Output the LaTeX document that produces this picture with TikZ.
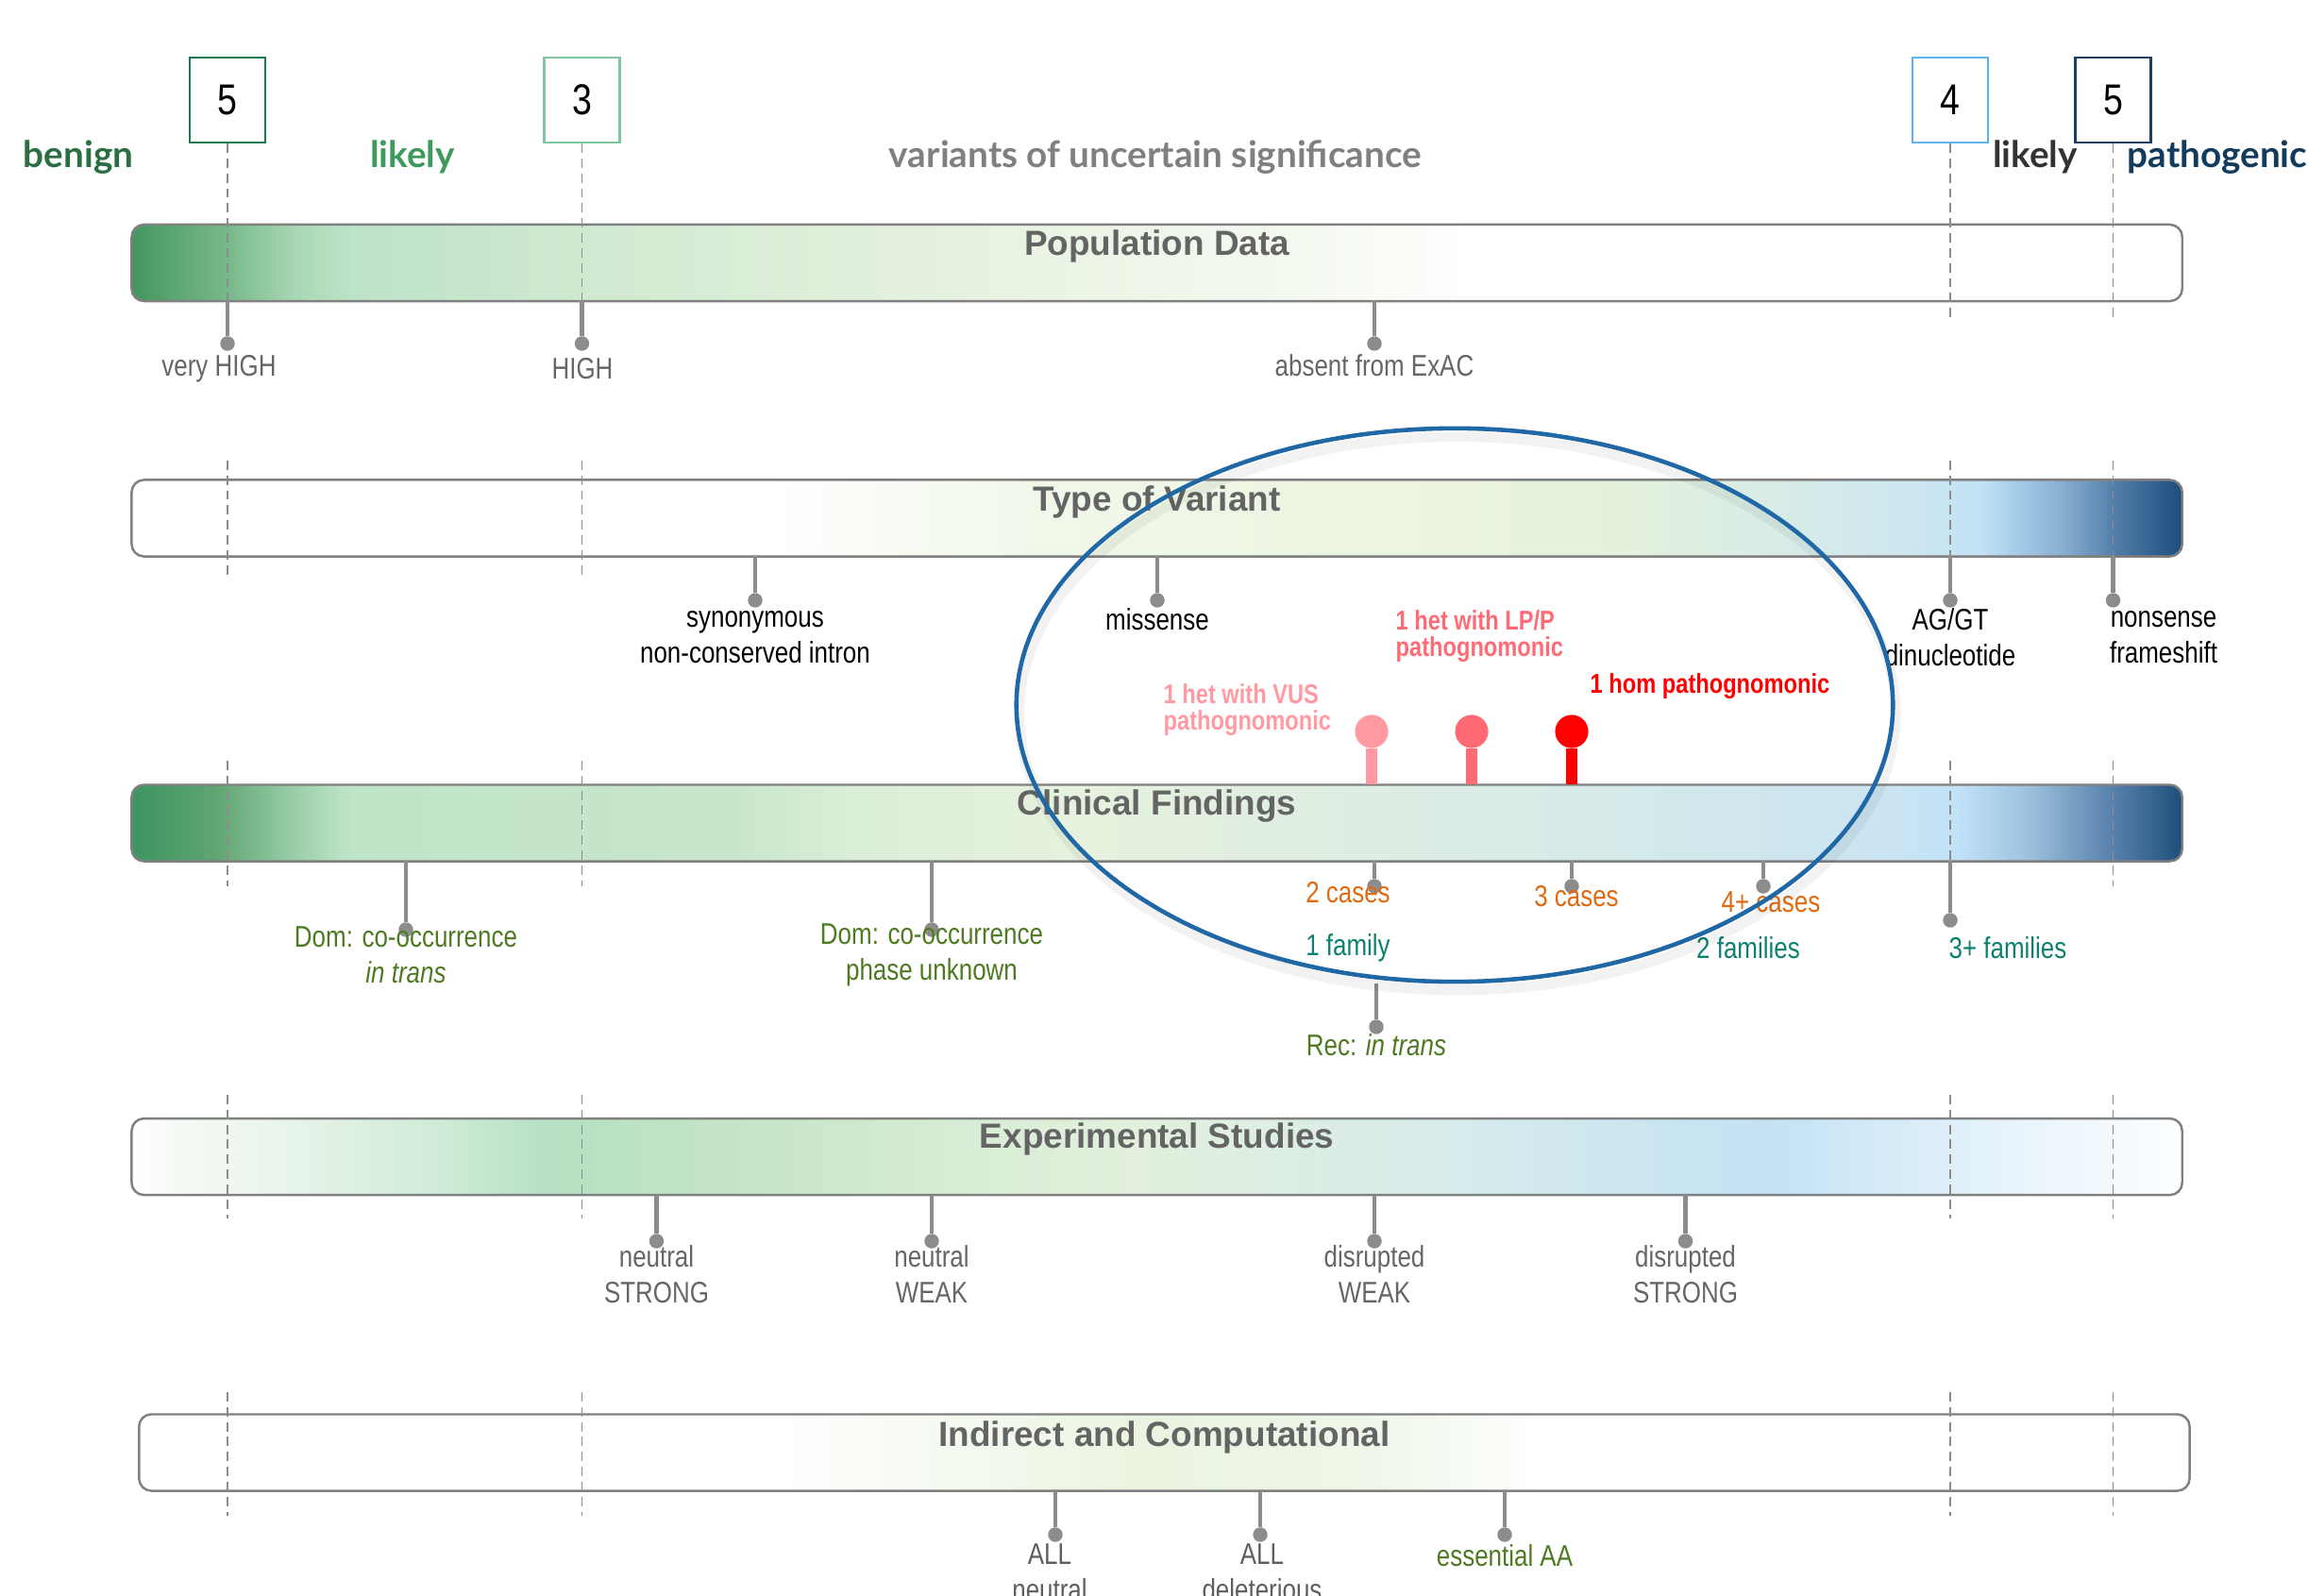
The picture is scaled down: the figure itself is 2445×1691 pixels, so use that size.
\documentclass[tikz,border=0pt]{standalone}
\usepackage{fontspec}
\setmainfont{Liberation Sans}
\newfontfamily\narrowfont[FakeStretch=0.82]{Liberation Sans}
\newfontfamily\headfont{Lato}

\definecolor{benigngreen}{HTML}{2B6E42}
\definecolor{likelygreen}{HTML}{3E9A5C}
\definecolor{vusgrey}{HTML}{808080}
\definecolor{likelydark}{HTML}{333333}
\definecolor{pathnavy}{HTML}{133B5C}
\definecolor{boxa}{HTML}{1E7A4E}
\definecolor{boxb}{HTML}{7CC6A0}
\definecolor{boxc}{HTML}{5CB4EA}
\definecolor{boxd}{HTML}{1C3F60}
\definecolor{barline}{HTML}{808080}
\definecolor{titlegrey}{HTML}{646464}
\definecolor{guidegrey}{HTML}{8C8C8C}
\definecolor{stemgrey}{HTML}{8C8C8C}
\definecolor{labgrey}{HTML}{666666}
\definecolor{allgrey}{HTML}{5E5E5E}
\definecolor{olive}{HTML}{4E7A22}
\definecolor{caseorange}{HTML}{E06A10}
\definecolor{famteal}{HTML}{0F8070}
\definecolor{vuspink}{HTML}{FF9AA2}
\definecolor{lppink}{HTML}{FF6B75}
\definecolor{homred}{HTML}{FF0000}
\definecolor{focusblue}{HTML}{2067A6}

\definecolor{pa}{HTML}{44965E}\definecolor{pb}{HTML}{78B88A}\definecolor{pc}{HTML}{A8D8B4}
\definecolor{pd}{HTML}{BDE3C8}\definecolor{pe}{HTML}{D0E9D1}\definecolor{pf}{HTML}{E6F2DF}
\definecolor{pg}{HTML}{F4F9F0}

\definecolor{tb}{HTML}{F1F8EA}\definecolor{tc}{HTML}{EAF4DE}\definecolor{td}{HTML}{E4F1DC}
\definecolor{te}{HTML}{D4EAEA}\definecolor{tf}{HTML}{CCE6F0}\definecolor{tg}{HTML}{C2E2F6}
\definecolor{th}{HTML}{A9D0EC}\definecolor{ti}{HTML}{86AED0}\definecolor{tj}{HTML}{4C78A4}
\definecolor{tk}{HTML}{1F4D7C}

\definecolor{ca}{HTML}{3D9460}\definecolor{cb}{HTML}{5FA572}\definecolor{cc}{HTML}{B0DCBC}
\definecolor{cd}{HTML}{C0E4C8}\definecolor{ce}{HTML}{C8E6CC}\definecolor{cf}{HTML}{DCEFD8}
\definecolor{cg}{HTML}{E6F2DE}\definecolor{ch}{HTML}{DEEDE2}\definecolor{ci}{HTML}{D6EAE8}
\definecolor{cj}{HTML}{CBE4F2}\definecolor{ck}{HTML}{C2E2F8}\definecolor{cl}{HTML}{9CC0DC}
\definecolor{cm}{HTML}{5A84AE}\definecolor{cn}{HTML}{1F4E7C}

\definecolor{eb}{HTML}{F6FAF6}\definecolor{ec}{HTML}{E8F4EA}\definecolor{ed}{HTML}{D0ECD8}
\definecolor{ee}{HTML}{B5E0C2}\definecolor{ef}{HTML}{C4E4C8}\definecolor{eg}{HTML}{DBEED8}
\definecolor{eh}{HTML}{E2F0DC}\definecolor{ei}{HTML}{D8ECEA}\definecolor{ej}{HTML}{C3E2F4}
\definecolor{ek}{HTML}{E0F0FA}\definecolor{el}{HTML}{FDFEFF}

\definecolor{ib}{HTML}{EAF4E0}\definecolor{ic}{HTML}{EEF6E8}

\pgfdeclarehorizontalshading{popshade}{100bp}{%
    color(0bp)=(pa); color(25bp)=(pa); color(27.3bp)=(pb); color(29bp)=(pc);
    color(30.4bp)=(pd); color(36.1bp)=(pe); color(45.1bp)=(pf); color(53.4bp)=(pg);
    color(57.7bp)=(white); color(100bp)=(white)}
\pgfdeclarehorizontalshading{tovshade}{100bp}{%
    color(0bp)=(white); color(40.4bp)=(white); color(46.9bp)=(tb); color(57.7bp)=(tc);
    color(61.3bp)=(td); color(66.3bp)=(te); color(68.5bp)=(tf); color(70.1bp)=(tg);
    color(70.8bp)=(th); color(72.1bp)=(ti); color(73.5bp)=(tj); color(75bp)=(tk);
    color(100bp)=(tk)}
\pgfdeclarehorizontalshading{clinshade}{100bp}{%
    color(0bp)=(ca); color(25bp)=(ca); color(27.05bp)=(cb); color(29.7bp)=(cc);
    color(30.4bp)=(cd); color(39.7bp)=(ce); color(42.9bp)=(cf); color(48.3bp)=(cg);
    color(54.9bp)=(ch); color(60.4bp)=(ci); color(67.7bp)=(cj); color(69.5bp)=(ck);
    color(71.3bp)=(cl); color(73.2bp)=(cm); color(75bp)=(cn); color(100bp)=(cn)}
\pgfdeclarehorizontalshading{exptshade}{100bp}{%
    color(0bp)=(white); color(25bp)=(white); color(26bp)=(eb); color(28.8bp)=(ec);
    color(32.3bp)=(ed); color(35.3bp)=(ee); color(39.4bp)=(ef); color(46.4bp)=(eg);
    color(49.4bp)=(eh); color(56.7bp)=(ei); color(64.9bp)=(ej); color(69.5bp)=(ek);
    color(75bp)=(el); color(100bp)=(el)}
\pgfdeclarehorizontalshading{indshade}{100bp}{%
    color(0bp)=(white); color(40.6bp)=(white); color(49.4bp)=(ib); color(54.8bp)=(ic);
    color(59.1bp)=(white); color(100bp)=(white)}

\begin{document}
\begin{tikzpicture}[x=0.01cm, y=-0.01cm,
        header/.style={font=\headfont\bfseries\fontsize{11}{13}\selectfont, anchor=base, inner sep=0pt},
        scorebox/.style={draw, line width=0.6pt, fill=white, minimum width=0.8cm,
            minimum height=0.9cm, inner sep=0pt, font=\narrowfont\fontsize{13}{15}\selectfont},
        bar/.style={draw=barline, line width=0.7pt, rounded corners=0.13cm, shade,
            minimum width=21.71cm, minimum height=0.81cm, inner sep=0pt},
        bartitle/.style={font=\bfseries\fontsize{10.5}{12}\selectfont, text=titlegrey},
        guide/.style={draw=guidegrey, line width=0.5pt, dash pattern=on 2.8pt off 1.7pt},
        stem/.style={draw=stemgrey, line width=1.3pt},
        stemdot/.style={circle, fill=stemgrey, inner sep=0pt, minimum size=4.4pt},
        ticklabel/.style={font=\narrowfont\fontsize{9}{10.8}\selectfont, align=center, inner sep=0pt},
        flaghead/.style={circle, inner sep=0pt, minimum size=10pt},
        flagstem/.style={line width=3.3pt},
        flaglabel/.style={font=\narrowfont\bfseries\fontsize{8.2}{8}\selectfont, align=left,
            anchor=west, inner sep=0pt}]
    \useasboundingbox (0,0) rectangle (2445,1691);

    \node[header, text=benigngreen] (benign) at (83,178) {benign};
    \node[header, text=likelygreen] (likelyb) at (437,178) {likely};
    \node[header, text=vusgrey] (vus) at (1224,178) {variants of uncertain significance};
    \node[header, text=likelydark] (likelyp) at (2156,178) {likely};
    \node[header, text=pathnavy, anchor=base west] (pathogenic) at (2253,178) {pathogenic};

    \node[scorebox, draw=boxa] (sba) at (241,106) {5};
    \node[scorebox, draw=boxb] (sbb) at (616.5,106) {3};
    \node[scorebox, draw=boxc] (sbc) at (2066,106) {4};
    \node[scorebox, draw=boxd] (sbd) at (2238.5,106) {5};

    \node[bar, shading=popshade] (popbar) at (1225.6,278.5) {};
    \node[bar, shading=tovshade] (tovbar) at (1225.6,549) {};
    \node[bar, shading=clinshade] (clinbar) at (1225.6,872) {};
    \node[bar, shading=exptshade] (exptbar) at (1225.6,1225.6) {};
    \node[bar, shading=indshade] (indbar) at (1233.4,1539) {};

    \node[bartitle] (poptitle) at ([yshift=-0.24cm]popbar.north) {Population Data};
    \node[bartitle] (tovtitle) at ([yshift=-0.25cm]tovbar.north) {Type of Variant};
    \node[bartitle] (clintitle) at ([yshift=-0.24cm]clinbar.north) {Clinical Findings};
    \node[bartitle] (expttitle) at ([yshift=-0.23cm]exptbar.north) {Experimental Studies};
    \node[bartitle] (indtitle) at ([yshift=-0.26cm]indbar.north) {Indirect and Computational};

    \foreach \nm/\xx/\yt/\yd in {
            popvh/241/318/364, pophi/616.5/318/364, popab/1456/318/364,
            tovsy/800/589/636, tovmi/1226/589/636, tovag/2066/589/636, tovns/2238.5/589/636,
            clintr/430/912/985, clinph/987/912/985, clincb/1456/912/939,
            clincc/1665/912/939, clincd/1868/912/939, clinfm/2066/912/975,
            clinrec/1458/1042/1088,
            exns/695.5/1266/1315, exnw/987/1266/1315, exdw/1456/1266/1315, exds/1785.5/1266/1315,
            indan/1118/1580/1626, indad/1335/1580/1626, indaa/1594/1580/1626} {
        \coordinate (\nm-top) at (\xx,\yt);
        \node[stemdot] (\nm) at (\xx,\yd) {};
        \draw[stem] (\nm-top) -- (\nm);
    }

    \foreach \gx [count=\i] in {241,616.5,2066,2238.5} {
        \coordinate (gpop\i) at (\gx,340);
        \coordinate (gtov\i) at (\gx,488);
        \coordinate (gtovb\i) at (\gx,610);
        \coordinate (gclin\i) at (\gx,806);
        \coordinate (gclinb\i) at (\gx,939);
        \coordinate (gexpt\i) at (\gx,1160);
        \coordinate (gexptb\i) at (\gx,1291);
        \coordinate (gind\i) at (\gx,1475);
        \coordinate (gindb\i) at (\gx,1606);
    }
    \draw[guide] (sba.south) -- (popvh-top);
    \draw[guide] (sbb.south) -- (pophi-top);
    \draw[guide] (sbc.south) -- (gpop3);
    \draw[guide] (sbd.south) -- (gpop4);
    \draw[guide] (gtov1) -- (gtovb1);
    \draw[guide] (gtov2) -- (gtovb2);
    \draw[guide] (gtov3) -- (tovag-top);
    \draw[guide] (gtov4) -- (tovns-top);
    \draw[guide] (gclin1) -- (gclinb1);
    \draw[guide] (gclin2) -- (gclinb2);
    \draw[guide] (gclin3) -- (clinfm-top);
    \draw[guide] (gclin4) -- (gclinb4);
    \foreach \i in {1,...,4} {
        \draw[guide] (gexpt\i) -- (gexptb\i);
        \draw[guide] (gind\i) -- (gindb\i);
    }

    \node[ticklabel, text=labgrey] (lvh) at (232,391) {very HIGH};
    \node[ticklabel, text=labgrey] (lhi) at (617,391) {HIGH};
    \node[ticklabel, text=labgrey] (lab) at (1456,387) {absent from ExAC};

    \node[ticklabel] (lsy) at (800,675) {synonymous\\non-conserved intron};
    \node[ticklabel] (lmi) at (1226,656) {missense};
    \node[ticklabel] (lag) at (2066,675) {AG/GT\\dinucleotide};
    \node[ticklabel] (lns) at (2292,675) {nonsense\\frameshift};

    \node[ticklabel, text=olive] (ltr) at (430,1012) {Dom: co-occurrence\\\textit{in trans}};
    \node[ticklabel, text=olive] (lph) at (987,1012) {Dom: co-occurrence\\phase unknown};
    \node[ticklabel, text=caseorange] (lcb) at (1428,946) {2 cases};
    \node[ticklabel, text=caseorange] (lcc) at (1670,950) {3 cases};
    \node[ticklabel, text=caseorange] (lcd) at (1876,956) {4+ cases};
    \node[ticklabel, text=famteal] (lfa) at (1428,1004) {1 family};
    \node[ticklabel, text=famteal] (lfb) at (1852,1004) {2 families};
    \node[ticklabel, text=famteal] (lfc) at (2127,1004) {3+ families};
    \node[ticklabel, text=olive] (lrec) at (1458,1107) {Rec: \textit{in trans}};

    \node[ticklabel, text=labgrey] (lens) at (695.5,1350) {neutral\\STRONG};
    \node[ticklabel, text=labgrey] (lenw) at (987,1350) {neutral\\WEAK};
    \node[ticklabel, text=labgrey] (ledw) at (1456,1350) {disrupted\\WEAK};
    \node[ticklabel, text=labgrey] (leds) at (1785.5,1350) {disrupted\\STRONG};

    \node[ticklabel, text=allgrey] (lan) at (1112,1666) {ALL\\neutral};
    \node[ticklabel, text=allgrey] (lad) at (1337,1666) {ALL\\deleterious};
    \node[ticklabel, text=olive] (laa) at (1594,1648) {essential AA};

    \node[flaghead, fill=vuspink] (fvus) at (1453,775) {};
    \node[flaghead, fill=lppink] (flp) at (1559,775) {};
    \node[flaghead, fill=homred] (fhom) at (1665,775) {};
    \coordinate (fvus-base) at (1453,831);
    \coordinate (flp-base) at (1559,831);
    \coordinate (fhom-base) at (1665,831);
    \draw[flagstem, vuspink] (fvus) -- (fvus-base);
    \draw[flagstem, lppink] (flp) -- (flp-base);
    \draw[flagstem, homred] (fhom) -- (fhom-base);

    \node[flaglabel, text=vuspink] (lfvus) at (1232,752) {1 het with VUS\\pathognomonic};
    \node[flaglabel, text=lppink] (lflp) at (1478,674) {1 het with LP/P\\pathognomonic};
    \node[flaglabel, text=homred] (lfhom) at (1684,727) {1 hom pathognomonic};

    \draw[black, opacity=0.05, line width=3pt] (1544,756) ellipse [x radius=4.64cm, y radius=2.93cm];
    \draw[focusblue, line width=1.3pt] (1541,747) ellipse [x radius=4.64cm, y radius=2.93cm];
\end{tikzpicture}
\end{document}
